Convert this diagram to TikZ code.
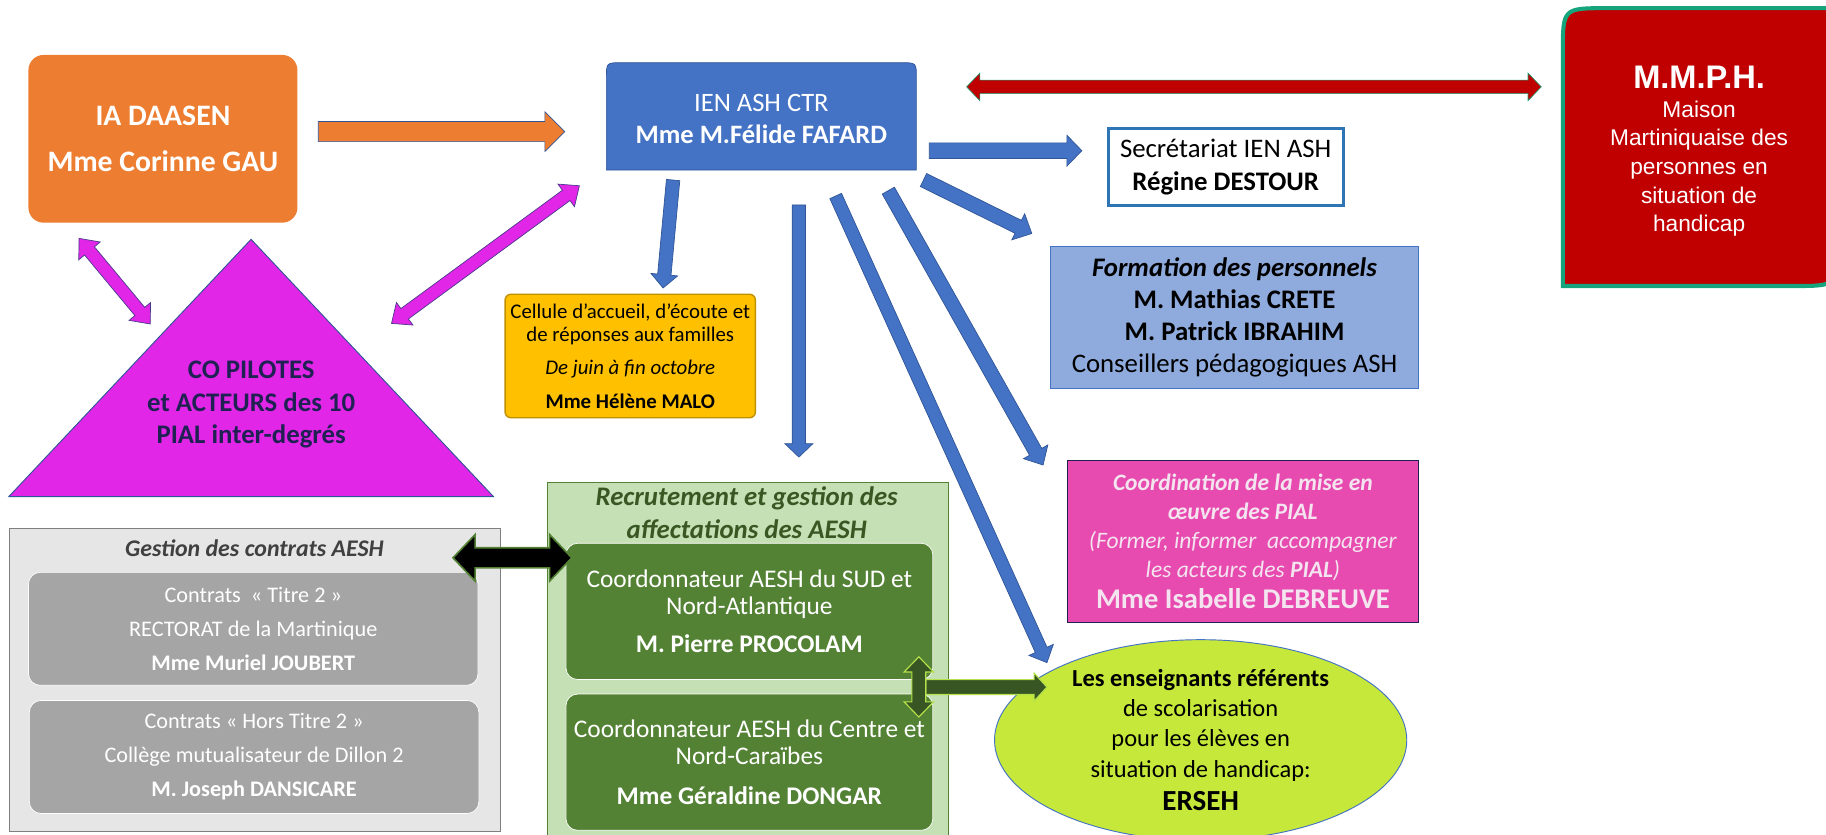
\documentclass[tikz,border=0pt]{standalone}
\usepackage{fontspec}
\setmainfont{Carlito}
\newfontfamily\tahoma{Liberation Sans}
\usetikzlibrary{calc}
\usetikzlibrary{backgrounds}
\usetikzlibrary{shapes.geometric}

\definecolor{orangeA}{HTML}{ED7D31}
\definecolor{blueA}{HTML}{4472C4}
\definecolor{blueB}{HTML}{2F5597}
\definecolor{blueC}{HTML}{2E75B6}
\definecolor{redA}{HTML}{C00000}
\definecolor{tealA}{HTML}{16A47C}
\definecolor{magA}{HTML}{E126E8}
\definecolor{magB}{HTML}{4A3A8C}
\definecolor{navyA}{HTML}{1F2152}
\definecolor{goldA}{HTML}{FFC000}
\definecolor{goldB}{HTML}{BF9000}
\definecolor{lblue}{HTML}{8FAADC}
\definecolor{greyA}{HTML}{E7E6E6}
\definecolor{greyB}{HTML}{A5A5A5}
\definecolor{greyC}{HTML}{7F7F7F}
\definecolor{greyD}{HTML}{404040}
\definecolor{lgreen}{HTML}{C5E0B4}
\definecolor{mgreen}{HTML}{548235}
\definecolor{dgreen}{HTML}{375623}
\definecolor{tgreen}{HTML}{385723}
\definecolor{pinkA}{HTML}{E84BB0}
\definecolor{pinkT}{HTML}{F3E4EF}
\definecolor{limeA}{HTML}{C5E83A}
\definecolor{limeB}{HTML}{B4E04A}

% block arrow: style, from, to, half shaft, half head, head length
\newcommand{\onearrow}[6]{%
  \coordinate (hd) at ($(#3)!#6!(#2)$);
  \draw[#1] ($(#2)!#4!90:(#3)$) -- ($(hd)!#4!-90:(#2)$) -- ($(hd)!#5!-90:(#2)$)
    -- (#3) -- ($(hd)!#5!90:(#2)$) -- ($(hd)!#4!90:(#2)$) -- ($(#2)!#4!-90:(#3)$) -- cycle;
}
% same with a head at both ends
\newcommand{\twoarrow}[6]{%
  \coordinate (ha) at ($(#2)!#6!(#3)$);
  \coordinate (hb) at ($(#3)!#6!(#2)$);
  \draw[#1] (#2) -- ($(ha)!#5!90:(#3)$) -- ($(ha)!#4!90:(#3)$) -- ($(hb)!#4!-90:(#2)$)
    -- ($(hb)!#5!-90:(#2)$) -- (#3) -- ($(hb)!#5!90:(#2)$) -- ($(hb)!#4!90:(#2)$)
    -- ($(ha)!#4!-90:(#3)$) -- ($(ha)!#5!-90:(#3)$) -- cycle;
}

\tikzset{
  box/.style={inner sep=0pt, align=center},
  iabox/.style={box, fill=orangeA, rounded corners=13pt, text=white,
    font=\fontsize{25.5}{40}\selectfont\bfseries, minimum width=231pt, minimum height=144pt},
  ientext/.style={box, text=white, font=\fontsize{22.8}{27.3}\selectfont},
  secbox/.style={box, draw=blueC, line width=2.5pt, fill=white,
    font=\fontsize{23}{28.6}\selectfont, minimum width=202pt, minimum height=66pt},
  formbox/.style={box, draw=blueA, line width=0.8pt, fill=lblue,
    font=\fontsize{23}{27.7}\selectfont, minimum width=316pt, minimum height=122pt},
  cellbox/.style={box, draw=goldB, line width=1.2pt, fill=goldA, rounded corners=5pt,
    font=\fontsize{17.9}{20}\selectfont, minimum width=215pt, minimum height=106pt},
  tritext/.style={box, text=navyA, font=\fontsize{23}{28}\selectfont\bfseries},
  outerbox/.style={box, line width=0.8pt, anchor=north west},
  greybox/.style={box, fill=greyB, draw=white, line width=0.6pt, rounded corners=10pt, text=white,
    font=\fontsize{19.1}{29.3}\selectfont, minimum width=386pt, minimum height=97pt},
  greenbox/.style={box, fill=mgreen, draw=white, line width=0.6pt, rounded corners=10pt, text=white,
    font=\fontsize{21.8}{23.7}\selectfont, minimum width=315pt, minimum height=117pt},
  coordbox/.style={box, fill=pinkA, draw=navyA, line width=0.8pt, text=pinkT,
    font=\fontsize{20.2}{25}\selectfont, minimum width=302pt, minimum height=139pt},
  erbox/.style={ellipse, box, fill=limeA, draw=blueA, line width=0.8pt,
    font=\fontsize{21}{26}\selectfont, minimum width=354pt, minimum height=165pt},
  barO/.style={fill=orangeA, draw=blueB, line width=0.6pt},
  barB/.style={fill=blueA, draw=blueB, line width=0.6pt},
  barR/.style={fill=redA, draw=tealA, line width=0.5pt},
  barM/.style={fill=magA, draw=magB, line width=0.6pt},
  barK/.style={fill=black, draw=mgreen, line width=1.4pt},
  barG/.style={fill=dgreen, draw=limeB, line width=1pt},
}

\begin{document}
\begin{tikzpicture}[x=1pt,y=-1pt]
  \useasboundingbox (0,0) rectangle (1568,717);

  % top row
  \node[iabox] (ia) at (139.9,119.2) {IA DAASEN\\Mme Corinne GAU};

  \fill[blueA, draw=blueB, line width=0.6pt] (520.7,146) -- (520.7,67) .. controls (520.7,53.8) .. (534,53.8)
    -- (773.6,53.8) .. controls (786.9,53.8) .. (786.9,67) -- (786.9,146) -- cycle;
  \node[ientext] (ien) at (653.8,102.5) {IEN ASH CTR\\\textbf{Mme M.Félide FAFARD}};

  \fill[redA, draw=tealA, line width=3.5pt] (1342,245.6) -- (1342,45) .. controls (1342,7) .. (1380,7)
    -- (1578,7) -- (1578,207.6) .. controls (1578,245.6) .. (1540,245.6) -- cycle;
  \node[box, text=white, font=\tahoma\fontsize{19.5}{24.5}\selectfont] (mmph) at (1459,130)
    {{\fontsize{28}{30}\selectfont\bfseries M.M.P.H.}\\Maison\\Martiniquaise des\\personnes en\\situation de\\handicap};

  \node[secbox] (sec) at (1052.5,143.5) {Secrétariat IEN ASH\\\textbf{Régine DESTOUR}};
  \node[formbox] (form) at (1060.1,272.5)
    {\textbf{\textit{Formation des personnels}}\\\textbf{M. Mathias CRETE}\\\textbf{M. Patrick IBRAHIM}\\Conseillers pédagogiques ASH};
  \node[cellbox] (cell) at (541.2,305.7)
    {Cellule d’accueil, d’écoute et\\de réponses aux familles\\[8.6pt]\textit{De juin à fin octobre}\\[8.6pt]\textbf{Mme Hélène MALO}};

  % pilots triangle
  \coordinate (t_l) at (7.5,426.5);
  \coordinate (t_a) at (215.6,205.5);
  \coordinate (t_r) at (423.8,426.5);
  \fill[magA, draw=blueB, line width=0.8pt] (t_l) -- (t_a) -- (t_r) -- cycle;
  \node[tritext] (tri) at (215.7,347.5) {CO PILOTES\\et ACTEURS des 10\\PIAL inter-degrés};

  % contracts
  \node[outerbox, fill=greyA, draw=greyC, minimum width=421.7pt, minimum height=259.6pt] (gest) at (7.7,453.7) {};
  \node[box, text=greyD, font=\fontsize{20.5}{24}\selectfont\bfseries\itshape] (gest_t) at (218.5,470.9) {Gestion des contrats AESH};
  \node[greybox] (g_1) at (217.5,540) {Contrats~~« Titre 2 »\\RECTORAT de la Martinique\\\textbf{Mme Muriel JOUBERT}};
  \node[greybox] (g_2) at (218.2,650) {Contrats « Hors Titre 2 »\\Collège mutualisateur de Dillon 2\\\textbf{M. Joseph DANSICARE}};

  % recruitment
  \node[outerbox, fill=lgreen, draw=mgreen, minimum width=344.9pt, minimum height=310pt] (recr) at (469.5,413.6) {};
  \node[box, text=tgreen, font=\fontsize{23}{28}\selectfont\bfseries\itshape] (recr_t) at (641.2,440.5)
    {Recrutement et gestion des\\affectations des AESH};
  \node[greenbox] (c_1) at (643.5,525)
    {Coordonnateur AESH du SUD et\\Nord-Atlantique\\[9pt]\textbf{M. Pierre PROCOLAM}};
  \node[greenbox] (c_2) at (643.5,654.5)
    {Coordonnateur AESH du Centre et\\Nord-Caraïbes\\[10.8pt]\textbf{Mme Géraldine DONGAR}};

  \node[coordbox] (coord) at (1067.3,465)
    {\textbf{\textit{Coordination de la mise en}}\\\textbf{\textit{œuvre des PIAL}}\\\textit{(Former, informer~~accompagner}\\\textit{les acteurs des \textbf{PIAL})}\\[1.5pt]{\fontsize{24.5}{25}\selectfont\textbf{Mme Isabelle DEBREUVE}}};

  \node[erbox] (ersh) at (1031,635.5)
    {\textbf{Les enseignants référents}\\de scolarisation\\pour les élèves en\\situation de handicap:\\[3pt]{\fontsize{25}{26}\selectfont\textbf{ERSEH}}};

  % arrow ends
  \coordinate (o_a) at (273.3,113);   \coordinate (o_b) at (484.9,113);
  \coordinate (r_a) at (830,74.6);    \coordinate (r_b) at (1323.5,74.6);
  \coordinate (s_a) at (798,129.4);   \coordinate (s_b) at (929,129.4);
  \coordinate (f_a) at (793,154.6);   \coordinate (f_b) at (886,200.5);
  \coordinate (e_a) at (578,154.6);   \coordinate (e_b) at (569.4,247.3);
  \coordinate (d_a) at (686,176);     \coordinate (d_b) at (686,392.5);
  \coordinate (h_a) at (717.6,168.3); \coordinate (h_b) at (899,569);
  \coordinate (p_a) at (762.8,163.7); \coordinate (p_b) at (895.7,399.3);
  \coordinate (m_a) at (67.9,204.7);  \coordinate (m_b) at (129,278.2);
  \coordinate (n_a) at (497.5,159.5); \coordinate (n_b) at (336.2,277.7);
  \coordinate (k_a) at (389,479);     \coordinate (k_b) at (491,479);
  \coordinate (v_a) at (789,564);     \coordinate (v_b) at (789,615.7);
  \coordinate (w_a) at (795,590);     \coordinate (w_b) at (899,590);

  \onearrow{barO}{o_a}{o_b}{8.6pt}{17pt}{17pt}
  \twoarrow{barR}{r_a}{r_b}{5.8pt}{11.9pt}{11.4pt}
  \onearrow{barB}{s_a}{s_b}{6.7pt}{13.3pt}{12.9pt}
  \onearrow{barB}{f_a}{f_b}{6.2pt}{12.5pt}{13pt}
  \onearrow{barB}{e_a}{e_b}{5.75pt}{11.5pt}{11.5pt}
  \onearrow{barB}{d_a}{d_b}{5.7pt}{12pt}{11.5pt}
  \onearrow{barB}{h_a}{h_b}{5.5pt}{11.5pt}{12pt}
  \onearrow{barB}{p_a}{p_b}{6pt}{12pt}{13pt}
  \twoarrow{barM}{m_a}{m_b}{5.5pt}{12pt}{14pt}
  \twoarrow{barM}{n_a}{n_b}{5.5pt}{12pt}{14pt}
  \twoarrow{barK}{k_a}{k_b}{8.6pt}{20pt}{19pt}
  \onearrow{barG}{w_a}{w_b}{6.4pt}{12pt}{11pt}
  \twoarrow{barG}{v_a}{v_b}{6pt}{12.6pt}{13pt}
\end{tikzpicture}
\end{document}
